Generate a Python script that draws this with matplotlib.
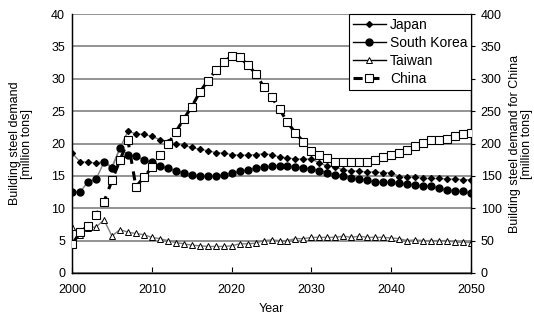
import matplotlib
matplotlib.use("Agg")
import matplotlib.pyplot as plt
from matplotlib.lines import Line2D

plt.rcParams['font.family'] = ['Liberation Sans', 'DejaVu Sans']

years = list(range(2000, 2051))

japan = [18.5, 17.2, 17.1, 17.0, 17.2, 16.4, 19.3, 21.9, 21.5, 21.4, 21.1,
         20.6, 20.3, 20.0, 19.7, 19.4, 19.1, 18.9, 18.6, 18.5, 18.3,
         18.2, 18.2, 18.3, 18.4, 18.3, 17.9, 17.8, 17.6, 17.6, 17.6,
         17.0, 16.5, 16.4, 15.9, 15.8, 15.7, 15.6, 15.6, 15.5, 15.5,
         14.9, 14.8, 14.8, 14.6, 14.6, 14.6, 14.5, 14.5, 14.4, 14.4]

south_korea = [12.5, 12.5, 14.1, 14.5, 17.1, 16.2, 19.3, 18.3, 18.0, 17.5, 17.1,
               16.6, 16.2, 15.8, 15.5, 15.2, 15.0, 15.0, 15.0, 15.2, 15.4,
               15.7, 15.9, 16.2, 16.4, 16.5, 16.6, 16.5, 16.4, 16.2, 16.1,
               15.8, 15.5, 15.2, 15.0, 14.7, 14.5, 14.3, 14.1, 14.0, 14.0,
               13.9, 13.7, 13.6, 13.5, 13.4, 13.1, 12.8, 12.7, 12.6, 12.3]

taiwan = [7.1, 5.9, 7.0, 7.1, 8.2, 5.7, 6.7, 6.3, 6.1, 5.9, 5.5,
          5.3, 5.0, 4.7, 4.5, 4.3, 4.2, 4.1, 4.1, 4.1, 4.2,
          4.5, 4.5, 4.6, 5.0, 5.1, 5.0, 5.0, 5.3, 5.3, 5.5,
          5.5, 5.5, 5.5, 5.7, 5.5, 5.7, 5.5, 5.5, 5.5, 5.4,
          5.3, 5.0, 5.1, 5.0, 5.0, 5.0, 5.0, 4.75, 4.75, 4.7]

china = [44, 63, 73, 90, 110, 143, 174, 205, 133, 148, 163,
         182, 199, 218, 238, 257, 279, 297, 313, 326, 335,
         333, 322, 308, 288, 272, 253, 233, 216, 203, 189,
         183, 177, 172, 172, 172, 171, 171, 174, 179, 183,
         185, 190, 196, 201, 205, 205, 207, 211, 214, 216]

left_ticks = [0, 5, 10, 15, 20, 25, 30, 35, 40]
right_ticks = [0, 50, 100, 150, 200, 250, 300, 350, 400]
x_ticks = [2000, 2010, 2020, 2030, 2040, 2050]

line_gray = '#808080'

fig = plt.figure(figsize=(5.34, 3.2), dpi=100)
ax = fig.add_axes([0.135, 0.147, 0.747, 0.809])

ax.plot(years, japan, color=line_gray, lw=1.0, marker='D', ms=3,
        mfc='black', mec='black', label='Japan', zorder=3)
ax.plot(years, south_korea, color=line_gray, lw=1.0, marker='o', ms=5,
        mfc='black', mec='black', label='South Korea', zorder=3)
ax.plot(years, taiwan, color=line_gray, lw=1.0, marker='^', ms=4.5,
        mfc='white', mec='black', mew=0.7, label='Taiwan', zorder=3)

ax.set_xlim(2000, 2050)
ax.set_ylim(0, 40)
ax.set_yticks(left_ticks)
ax.set_xticks(x_ticks)
ax.yaxis.grid(True, color=line_gray, lw=1.2)
ax.set_axisbelow(True)
ax.tick_params(axis='x', direction='in', length=4, labelsize=9, pad=8)
ax.tick_params(axis='y', direction='out', length=0, labelsize=9, pad=5)
ax.spines['top'].set_visible(False)
for side in ('left', 'bottom', 'right'):
    ax.spines[side].set_linewidth(1.0)
ax.set_xlabel('Year', fontsize=9, labelpad=5)
ax.set_ylabel('Building steel demand\n[million tons]', fontsize=9,
              linespacing=1.0, labelpad=13)

ax2 = ax.twinx()
ax2.plot(years, china, color='black', lw=2.2, ls=(0, (3, 2.5)), marker='s',
         ms=5.8, mfc='white', mec='black', mew=0.8, label='China', zorder=4)
ax2.set_ylim(0, 400)
ax2.set_yticks(right_ticks)
ax2.tick_params(axis='y', direction='out', length=3, labelsize=9, pad=4)
ax2.spines['top'].set_visible(False)
ax2.set_ylabel('Building steel demand for China\n[million tons]', fontsize=9,
               linespacing=1.0, labelpad=5)

handles = [
    Line2D([], [], color='black', lw=1.0, marker='D', ms=3, mfc='black', mec='black'),
    Line2D([], [], color='black', lw=1.0, marker='o', ms=5, mfc='black', mec='black'),
    Line2D([], [], color='black', lw=1.0, marker='^', ms=4.5, mfc='white', mec='black', mew=0.7),
    Line2D([], [], color='black', lw=2.2, ls=(0, (3, 2.5)), marker='s', ms=5.8,
           mfc='white', mec='black', mew=0.8),
]
leg = ax2.legend(handles, ['Japan', 'South Korea', 'Taiwan', 'China'],
                 loc='upper right', bbox_to_anchor=(1.0, 1.0), fontsize=10,
                 frameon=True, fancybox=False, framealpha=1, edgecolor='black',
                 borderpad=0.25, labelspacing=0.3, handlelength=2.4,
                 handletextpad=0.3, borderaxespad=0.0)
leg.get_frame().set_linewidth(0.8)

fig.savefig('out.png', dpi=100)
